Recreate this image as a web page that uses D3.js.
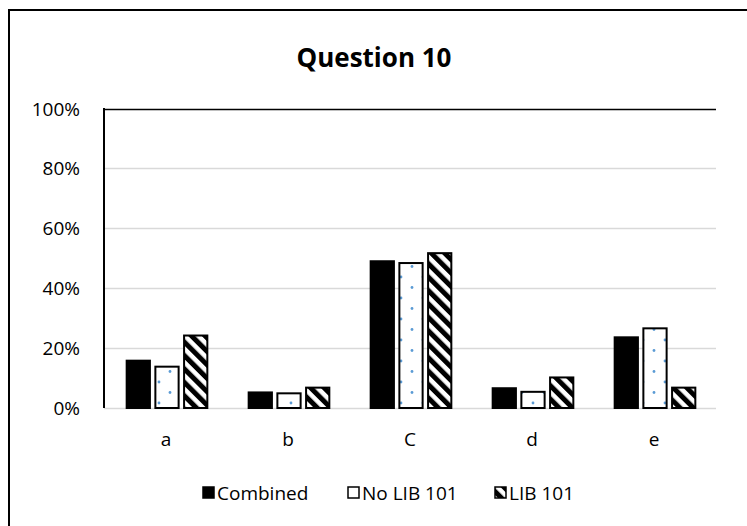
<!DOCTYPE html>
<html><head><meta charset="utf-8">
<script src="https://cdn.jsdelivr.net/npm/d3@7"></script>
<style>body{margin:0;background:#fff}svg{display:block}</style>
</head><body>
<script>
const categories = ["a","b","C","d","e"];
const seriesNames = ["Combined","No LIB 101","LIB 101"];
const combined = [0.158, 0.052, 0.49, 0.066, 0.236];
const noLib = [0.138, 0.049, 0.484, 0.054, 0.266];
const lib = [0.242, 0.068, 0.517, 0.102, 0.068];
const yTicks = [0,0.2,0.4,0.6,0.8,1.0];
const title = "Question 10";

const W=747,H=526;
const font = "'Open Sans', sans-serif";
const svg = d3.select("body").append("svg").attr("width",W).attr("height",H);
const defs = svg.append("defs");
const dots = defs.append("pattern").attr("id","dots").attr("patternUnits","userSpaceOnUse")
  .attr("width",22).attr("height",21).attr("x",2).attr("y",0);
dots.append("rect").attr("width",22).attr("height",21).attr("fill","#fff");
dots.append("circle").attr("cx",3).attr("cy",4).attr("r",1.4).attr("fill","#5b9bd5");
dots.append("circle").attr("cx",14).attr("cy",14.5).attr("r",1.4).attr("fill","#5b9bd5");
const stripes = defs.append("pattern").attr("id","stripes").attr("patternUnits","userSpaceOnUse")
  .attr("width",9.5).attr("height",9.5).attr("patternTransform","rotate(-45)");
stripes.append("rect").attr("width",9.5).attr("height",9.5).attr("fill","#fff");
stripes.append("rect").attr("width",5).attr("height",9.5).attr("fill","#000");

svg.append("rect").attr("x",9).attr("y",10).attr("width",900).attr("height",700)
  .attr("fill","none").attr("stroke","#000").attr("stroke-width",2);

const m={l:104,r:716,t:108.5,b:408};
const x = d3.scaleBand().domain(categories).range([m.l+2,m.r]);
const y = d3.scaleLinear().domain([0,1]).range([m.b,m.t]);

svg.append("text").attr("x",374).attr("y",67).attr("text-anchor","middle")
  .attr("font-family",font).attr("font-weight","bold").attr("font-size",26).text(title);

const g = svg.append("g");
g.selectAll("line.grid").data(yTicks).join("line").attr("class","grid")
  .attr("x1",m.l).attr("x2",m.r).attr("y1",d=>Math.round(y(d))+0.5).attr("y2",d=>Math.round(y(d))+0.5)
  .attr("stroke",d=>d===1?"#000":"#d9d9d9").attr("stroke-width",1.5);
g.append("line").attr("x1",m.l).attr("x2",m.l).attr("y1",m.t-0.5).attr("y2",m.b)
  .attr("stroke","#000").attr("stroke-width",2);
g.selectAll("text.yt").data(yTicks).join("text").attr("class","yt")
  .attr("x",80).attr("y",d=>y(d)+7).attr("text-anchor","end")
  .attr("font-family",font).attr("font-size",19).attr("fill","#000")
  .text(d=>d3.format(".0%")(d));

const series = [combined,noLib,lib];
const fills = ["#000","url(#dots)","url(#stripes)"];
const inner = d3.scaleBand().domain([0,1,2]).range([0,x.bandwidth()]).paddingInner(0.19).paddingOuter(0.72);
series.forEach((vals,si)=>{
  g.selectAll("rect.s"+si).data(vals).join("rect").attr("class","s"+si)
    .attr("x",(d,i)=>x(categories[i])+inner(si)).attr("width",inner.bandwidth())
    .attr("y",d=>y(d)).attr("height",d=>y(0)-y(d))
    .attr("fill",fills[si]).attr("stroke","#000").attr("stroke-width",2);
});
g.selectAll("text.xt").data(categories).join("text").attr("class","xt")
  .attr("x",d=>x(d)+x.bandwidth()/2-1).attr("y",446).attr("text-anchor","middle")
  .attr("font-family",font).attr("font-size",19).text(d=>d);

const lx=[202,347,494];
const lg = svg.append("g");
seriesNames.forEach((n,i)=>{
  lg.append("rect").attr("x",lx[i]+1).attr("y",487).attr("width",11).attr("height",11)
    .attr("fill",i===0?"#000":(i===1?"#fff":"url(#stripes)")).attr("stroke","#000").attr("stroke-width",1.5);
  lg.append("text").attr("x",lx[i]+15).attr("y",500).attr("font-family",font).attr("font-size",19).text(n);
});
</script>
</body></html>
